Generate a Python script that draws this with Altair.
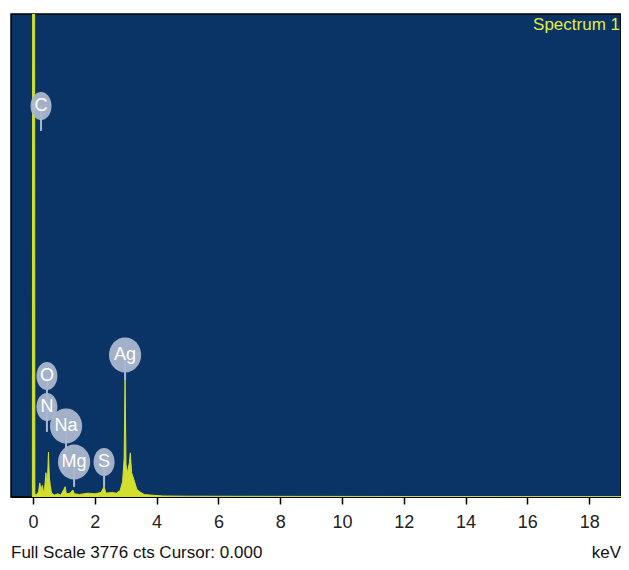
import altair as alt
import pandas as pd

# ---- data ----
energy_kev = [-0.02, -0.01, 0.05, 0.06, 0.12, 0.18, 0.22, 0.26, 0.30, 0.34, 0.38, 0.42, 0.46,
              0.50, 0.53, 0.56, 0.60, 0.70, 0.80, 0.90, 1.00, 1.04, 1.08, 1.20, 1.29, 1.34,
              1.50, 1.80, 2.00, 2.20, 2.30, 2.36, 2.55, 2.70, 2.82, 2.90, 2.95, 2.98, 3.01,
              3.06, 3.12, 3.15, 3.19, 3.26, 3.36, 3.46, 3.60, 3.80, 4.20, 5.00, 8.00, 12.00, 19.10]
counts = [0, 5000, 5000, 20, 20, 40, 110, 50, 90, 30, 80, 190, 60,
          350, 150, 90, 30, 15, 25, 15, 60, 80, 25, 30, 55, 25,
          20, 30, 25, 35, 80, 30, 35, 30, 50, 120, 300, 930, 250,
          190, 270, 345, 190, 140, 60, 40, 20, 15, 8, 6, 5, 4, 3]

elements = ["N", "O", "C", "Na", "Mg", "S", "Ag"]
label_kev = [0.45, 0.45, 0.26, 1.07, 1.33, 2.30, 2.98]
label_cts = [704, 946, 3057, 555, 274, 274, 1110]

x_tick_values = [i * 0.5 for i in range(0, 39)]
full_scale = 3776

# ---- styles ----
NAVY = "#0b3466"
YEL = "#d2df2c"
TXT_YEL = "#e2ec45"
BUBBLE = "#abb8cf"
FONT = "Liberation Sans Narrow, Arial Narrow, Liberation Sans, sans-serif"

spec = pd.DataFrame({"keV": energy_kev, "cts": counts})
labels = pd.DataFrame({
    "el": elements,
    "keV": label_kev,
    "cts": label_cts,
    "kind": ["1" if len(e) == 1 else "2" for e in elements],
})
labels["stem"] = labels["cts"] - 195
one = pd.DataFrame({"a": [0]})

xscale = alt.Scale(domain=[-0.712, 19.03], nice=False, zero=False)
yscale = alt.Scale(domain=[0, full_scale], nice=False, zero=True)

xaxis = alt.Axis(
    values=x_tick_values,
    labelExpr="datum.value % 2 === 0 ? datum.label : ''",
    title=None,
    grid=False,
    domain=True,
    domainColor="black",
    domainWidth=1,
    tickColor="black",
    tickWidth=1.5,
    tickSize={"condition": {"test": "datum.value % 1 === 0", "value": 7}, "value": 4},
    labelPadding=9,
    labelFont=FONT,
    labelFontSize=18,
    labelColor="#222222",
    labelFlush=False,
    labelOverlap=False,
)

area = alt.Chart(spec).mark_area(
    color=YEL, opacity=1, clip=True, interpolate="linear",
    line={"color": YEL, "strokeWidth": 1},
).encode(
    x=alt.X("keV:Q", scale=xscale, axis=xaxis),
    y=alt.Y("cts:Q", scale=yscale, axis=None),
)

stems = alt.Chart(labels).mark_rule(color=BUBBLE, strokeWidth=2).encode(
    x=alt.X("keV:Q", scale=xscale),
    y=alt.Y("cts:Q", scale=yscale),
    y2="stem:Q",
)

p1 = "M -0.75 0 A 0.75 1 0 1 0 0.75 0 A 0.75 1 0 1 0 -0.75 0 Z"
p2 = "M -1.15 0 A 1.15 1.25 0 1 0 1.15 0 A 1.15 1.25 0 1 0 -1.15 0 Z"

bubbles = alt.Chart(labels).mark_point(
    filled=True, size=784, fill=BUBBLE, opacity=0.95, strokeWidth=0,
).encode(
    x=alt.X("keV:Q", scale=xscale),
    y=alt.Y("cts:Q", scale=yscale),
    shape=alt.Shape("kind:N", scale=alt.Scale(domain=["1", "2"], range=[p1, p2]), legend=None),
)

texts = alt.Chart(labels).mark_text(
    color="white", font=FONT, fontSize=18, baseline="middle", align="center",
).encode(
    x=alt.X("keV:Q", scale=xscale),
    y=alt.Y("cts:Q", scale=yscale),
    text="el:N",
)

spectrum_title = alt.Chart(one).mark_text(
    color=TXT_YEL, font=FONT, fontSize=17, align="right", baseline="bottom",
).encode(x=alt.value(609), y=alt.value(20), text=alt.value("Spectrum 1"))

footer = alt.Chart(one).mark_text(
    color="#111111", font=FONT, fontSize=17, align="left", baseline="bottom",
).encode(x=alt.value(0), y=alt.value(548), text=alt.value("Full Scale 3776 cts Cursor: 0.000"))

kev = alt.Chart(one).mark_text(
    color="#111111", font=FONT, fontSize=17, align="right", baseline="bottom",
).encode(x=alt.value(610), y=alt.value(548), text=alt.value("keV"))

chart = alt.layer(area, stems, bubbles, texts, spectrum_title, footer, kev).properties(
    width=610, height=483,
    padding={"left": 3, "top": 6, "right": 0, "bottom": 0},
    background="white",
).configure_view(
    fill=NAVY, stroke="black", strokeWidth=1.5,
)

chart.save("out.html", embed_options={"renderer": "svg", "actions": False})
